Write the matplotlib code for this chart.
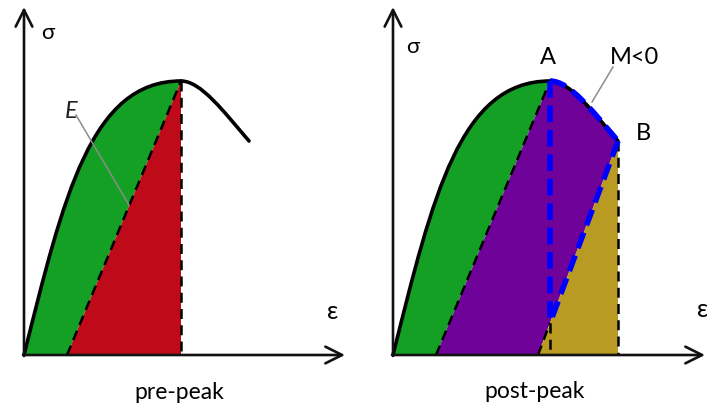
import matplotlib
matplotlib.use("Agg")
import matplotlib.pyplot as plt
from matplotlib.path import Path
from matplotlib.patches import PathPatch

plt.rcParams['font.family'] = ['Lato', 'DejaVu Sans']

# stress-strain curve as two cubic Bezier pieces (strain, stress), origin at 0,0
rise_ctrl = [(0, 0), (40, 160), (67, 274), (157, 274)]       # origin -> peak A
fall_ctrl = [(157, 274), (177, 274), (200, 243), (225, 214)]  # peak A -> B
secant_foot = 43       # unloading line from the peak hits the strain axis here
post_foot = 145        # unloading line from B hits the strain axis here

GREEN = '#13a024'
RED = '#be0a19'
PURPLE = '#6f0299'
GOLD = '#b99a22'
BLUE = '#0000ff'

panel_titles = ['pre-peak', 'post-peak']

fig = plt.figure(figsize=(7.07, 4.06), dpi=100)
ax_l = fig.add_axes([0, 0, 360 / 707, 1])
ax_r = fig.add_axes([360 / 707, 0, 347 / 707, 1])
ax_l.set_xlim(-24, 336)
ax_r.set_xlim(-33, 314)
for ax in (ax_l, ax_r):
    ax.set_ylim(-50, 356)
    ax.axis('off')

xp, yp = rise_ctrl[-1]
xb, yb = fall_ctrl[-1]
C4 = [Path.CURVE4] * 3


def curve_path(ctrl):
    return Path(ctrl, [Path.MOVETO] + C4)


def region(verts, codes, color):
    return PathPatch(Path(verts, codes), facecolor=color, lw=0, zorder=1)


def draw_axes(ax, x_tip, y_tip):
    arrow = dict(arrowstyle='->', lw=1.9, color='#111111',
                 mutation_scale=30, shrinkA=0, shrinkB=0)
    ax.annotate('', xy=(x_tip, 0), xytext=(-1, 0), arrowprops=arrow, zorder=10)
    ax.annotate('', xy=(0, y_tip), xytext=(0, -1), arrowprops=arrow, zorder=10)


def dashed(ax, xs, ys, color='black', lw=1.8, dash=(4, 2.5), z=4):
    ax.plot(xs, ys, color=color, lw=lw, linestyle=(0, dash),
            solid_capstyle='butt', dash_capstyle='butt', zorder=z)


def curve(ax, ctrl, **kw):
    ax.add_patch(PathPatch(curve_path(ctrl), fill=False, **kw))


green_verts = rise_ctrl + [(secant_foot, 0), (0, 0)]
green_codes = [Path.MOVETO] + C4 + [Path.LINETO, Path.CLOSEPOLY]

# ---- left: pre-peak ----
ax_l.add_patch(region(green_verts, green_codes, GREEN))
ax_l.fill([secant_foot, xp, xp], [0, yp, 0], color=RED, lw=0, zorder=1)
dashed(ax_l, [secant_foot, xp], [0, yp])
dashed(ax_l, [xp, xp], [yp, 0])
for piece in (rise_ctrl, fall_ctrl):
    curve(ax_l, piece, edgecolor='black', lw=2.6, capstyle='round', zorder=5)
draw_axes(ax_l, 321, 348)

ax_l.plot([52, 105], [240, 150], color='#8c8c8c', lw=1.1, zorder=6)
ax_l.text(47, 244, 'E', style='italic', fontsize=17, color='#222222',
          ha='center', va='center', zorder=7)
ax_l.text(24, 323, 'σ', fontsize=16, ha='center', va='center')
ax_l.text(309, 44, 'ε', fontsize=18, ha='center', va='center')
ax_l.text(155, -37, panel_titles[0], fontsize=16.5, ha='center', va='center')

# ---- right: post-peak ----
ax_r.add_patch(region(green_verts, green_codes, GREEN))
purple_verts = [(secant_foot, 0)] + fall_ctrl + [(post_foot, 0), (secant_foot, 0)]
purple_codes = [Path.MOVETO, Path.LINETO] + C4 + [Path.LINETO, Path.CLOSEPOLY]
ax_r.add_patch(region(purple_verts, purple_codes, PURPLE))
ax_r.fill([post_foot, xb, xb], [0, yb, 0], color=GOLD, lw=0, zorder=1)

# where the unloading line from B crosses the vertical through A
y_cross = yb * (xp - post_foot) / (xb - post_foot)

dashed(ax_r, [secant_foot, xp], [0, yp])
dashed(ax_r, [xp, xp], [y_cross, 0])
dashed(ax_r, [post_foot, xp], [0, y_cross])
dashed(ax_r, [xb, xb], [yb, 0])
for piece in (rise_ctrl, fall_ctrl):
    curve(ax_r, piece, edgecolor='black', lw=2.6, capstyle='round', zorder=5)

curve(ax_r, fall_ctrl, edgecolor=BLUE, lw=4, linestyle=(0, (3, 1.4)),
      capstyle='butt', zorder=6)
blue = dict(color=BLUE, lw=4, dash=(3, 1.4), z=6)
dashed(ax_r, [xp, xp], [yp, y_cross], **blue)
dashed(ax_r, [xb, xp], [yb, y_cross], **blue)
draw_axes(ax_r, 312, 348)

ax_r.plot([220, 199], [288, 253], color='#8c8c8c', lw=1.1, zorder=6)
ax_r.text(155, 298, 'A', fontsize=17, ha='center', va='center')
ax_r.text(242, 298, 'M<0', fontsize=17, ha='center', va='center')
ax_r.text(250, 223, 'B', fontsize=17, ha='center', va='center')
ax_r.text(20, 309, 'σ', fontsize=16, ha='center', va='center')
ax_r.text(310, 46, 'ε', fontsize=18, ha='center', va='center')
ax_r.text(142, -36, panel_titles[1], fontsize=16.5, ha='center', va='center')

fig.savefig('out.png', dpi=100)
